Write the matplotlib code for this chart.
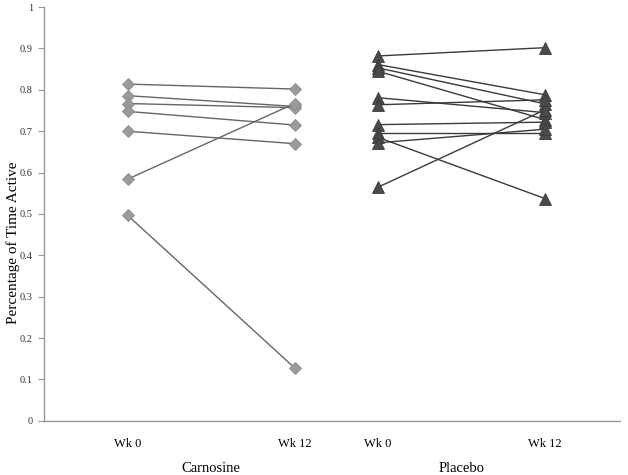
import matplotlib.pyplot as plt

# x positions of the four time points (two groups)
carn_x = [1.0, 2.0]
plac_x = [2.5, 3.5]
tick_labels = ['Wk 0', 'Wk 12', 'Wk 0', 'Wk 12']
groups = ['Carnosine', 'Placebo']

# per-subject values, week 0 and week 12
carn_wk0 = [0.814, 0.786, 0.767, 0.748, 0.700, 0.584, 0.497]
carn_wk12 = [0.802, 0.760, 0.757, 0.715, 0.670, 0.767, 0.128]

plac_wk0 = [0.882, 0.861, 0.853, 0.845, 0.781, 0.764, 0.716, 0.695, 0.685, 0.672, 0.565]
plac_wk12 = [0.902, 0.788, 0.766, 0.728, 0.745, 0.776, 0.722, 0.695, 0.537, 0.705, 0.752]

plt.rcParams['font.family'] = ['Liberation Serif', 'DejaVu Serif']

fig = plt.figure(figsize=(6.28, 4.75), dpi=100)
ax = fig.add_axes([0.070, 0.114, 0.918, 0.871])

for a, b in zip(carn_wk0, carn_wk12):
    ax.plot(carn_x, [a, b], color='#666666', lw=1.0, zorder=2)
    ax.plot(carn_x, [a, b], ls='none', marker='D', ms=6.5,
            mfc='#9a9a9a', mec='#8a8a8a', mew=0.6, zorder=3)

for a, b in zip(plac_wk0, plac_wk12):
    ax.plot(plac_x, [a, b], color='#3a3a3a', lw=1.0, zorder=2)
    ax.plot(plac_x, [a, b], ls='none', marker='^', ms=8.5,
            mfc='#4a4a4a', mec='#3a3a3a', mew=0.6, zorder=3)

ax.set_xlim(0.5, 3.95)
ax.set_ylim(0, 1)
ax.set_yticks([i / 10 for i in range(11)])
ax.set_yticklabels(['0', '0.1', '0.2', '0.3', '0.4', '0.5', '0.6', '0.7',
                    '0.8', '0.9', '1'])
ax.tick_params(axis='y', labelsize=7.5, colors='#999999', length=4,
               width=0.8, direction='out', pad=4)
for lbl in ax.get_yticklabels():
    lbl.set_color('#333333')

ax.set_xticks(carn_x + plac_x)
ax.set_xticklabels(tick_labels)
ax.tick_params(axis='x', length=0, labelsize=9, pad=12)

for s in ['top', 'right']:
    ax.spines[s].set_visible(False)
for s in ['left', 'bottom']:
    ax.spines[s].set_color('#999999')
    ax.spines[s].set_linewidth(1.0)

ax.set_ylabel('Percentage of Time Active', fontsize=11)
ax.yaxis.set_label_coords(-0.042, 0.43)

ax.text(sum(carn_x) / 2, -0.115, groups[0], ha='center', va='center',
        fontsize=10.5, transform=ax.get_xaxis_transform())
ax.text(sum(plac_x) / 2, -0.115, groups[1], ha='center', va='center',
        fontsize=10.5, transform=ax.get_xaxis_transform())

fig.savefig('out.png', dpi=100)
